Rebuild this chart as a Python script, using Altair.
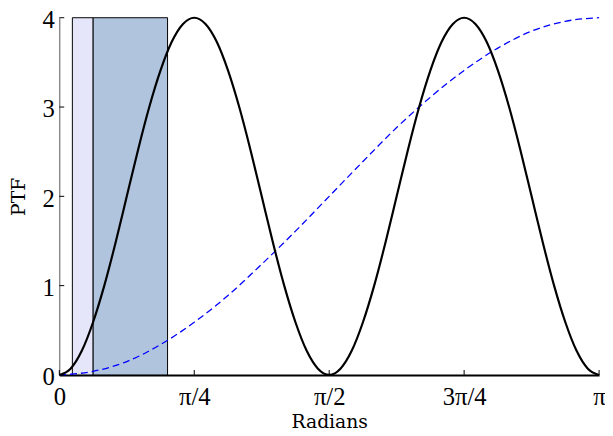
import math
import altair as alt
import pandas as pd

PI = math.pi

# Solid curve values read at x = k*pi/48, k = 0..48
solid_vals = [0.0, 0.07, 0.27, 0.59, 1.0, 1.48, 2.0, 2.52, 3.0, 3.41, 3.73, 3.93, 4.0,
              3.93, 3.73, 3.41, 3.0, 2.52, 2.0, 1.48, 1.0, 0.59, 0.27, 0.07, 0.0,
              0.07, 0.27, 0.59, 1.0, 1.48, 2.0, 2.52, 3.0, 3.41, 3.73, 3.93, 4.0,
              3.93, 3.73, 3.41, 3.0, 2.52, 2.0, 1.48, 1.0, 0.59, 0.27, 0.07, 0.0]
solid_x = [k * PI / 48 for k in range(len(solid_vals))]

# Dashed curve values read at x = k*pi/16, k = 0..16
dashed_vals = [0.0, 0.04, 0.15, 0.34, 0.59, 0.89, 1.24, 1.61, 2.0,
               2.39, 2.77, 3.11, 3.41, 3.66, 3.85, 3.96, 4.0]
dashed_x = [k * PI / 16 for k in range(len(dashed_vals))]

# Shaded bands (radians)
band_start = [0.076, 0.197]
band_end = [0.197, 0.630]
band_top = [4, 4]
band_color = ["#e6e6fa", "#b0c4de"]

x_tick_values = [0, PI / 4, PI / 2, 3 * PI / 4, PI]
x_tick_labels = ["0", "π/4", "π/2", "3π/4", "π"]
y_tick_values = [0, 1, 2, 3, 4]

W, H = 547, 362

solid_df = pd.DataFrame({"x": solid_x, "y": solid_vals})
dashed_df = pd.DataFrame({"x": dashed_x, "y": dashed_vals})
band_df = pd.DataFrame({"x": band_start, "x2": band_end, "y": [0, 0], "y2": band_top, "c": band_color})
xt_df = pd.DataFrame({"x": x_tick_values})
yt_df = pd.DataFrame({"y": y_tick_values})

label_expr = "[" + ",".join("'%s'" % s for s in x_tick_labels) + "][round(datum.value*4/PI)]"

xscale = alt.Scale(domain=[0, PI], nice=False, zero=False)
yscale = alt.Scale(domain=[0, 4], nice=False)

xaxis = alt.Axis(values=x_tick_values, labelExpr=label_expr, title="Radians",
                 grid=False, ticks=False, domainColor="black", domainWidth=2,
                 labelFont="Liberation Serif", labelFontSize=25, labelColor="black",
                 labelPadding=10, labelFlush=False,
                 titleFont="DejaVu Serif", titleFontSize=19, titleFontWeight="normal",
                 titleColor="black", titlePadding=3)
yaxis = alt.Axis(values=y_tick_values, format="d", title="PTF", grid=False, ticks=False,
                 domainColor="#555555", domainWidth=1,
                 labelFont="Liberation Serif", labelFontSize=25, labelColor="black",
                 labelPadding=5, labelFlush=False, labelOffset=2,
                 titleFont="DejaVu Serif", titleFontSize=19, titleFontWeight="normal",
                 titleColor="black", titlePadding=14)

bands = alt.Chart(band_df).mark_rect(stroke="black", strokeWidth=1).encode(
    x=alt.X("x:Q", scale=xscale, axis=xaxis),
    x2="x2:Q",
    y=alt.Y("y:Q", scale=yscale, axis=yaxis),
    y2="y2:Q",
    color=alt.Color("c:N", scale=None),
)

dashed = alt.Chart(dashed_df).mark_line(color="#0000ff", strokeWidth=1.3,
                                         strokeDash=[7, 4], interpolate="monotone").encode(
    x=alt.X("x:Q", scale=xscale), y=alt.Y("y:Q", scale=yscale))

solid = alt.Chart(solid_df).mark_line(color="black", strokeWidth=2.2,
                                       interpolate="monotone").encode(
    x=alt.X("x:Q", scale=xscale), y=alt.Y("y:Q", scale=yscale))

xticks = alt.Chart(xt_df).mark_rule(color="black", strokeWidth=1).encode(
    x=alt.X("x:Q", scale=xscale), y=alt.value(H), y2=alt.value(H - 5))

yticks = alt.Chart(yt_df).mark_rule(color="black", strokeWidth=1).encode(
    y=alt.Y("y:Q", scale=yscale), x=alt.value(0), x2=alt.value(5))

chart = alt.layer(bands, dashed, solid, xticks, yticks).properties(
    width=W, height=H,
    autosize=alt.AutoSizeParams(type="none"),
    padding={"left": 52, "top": 7, "right": 6, "bottom": 58},
).configure_view(stroke=None)

chart.save("out.html", embed_options={"renderer": "svg", "actions": False})
